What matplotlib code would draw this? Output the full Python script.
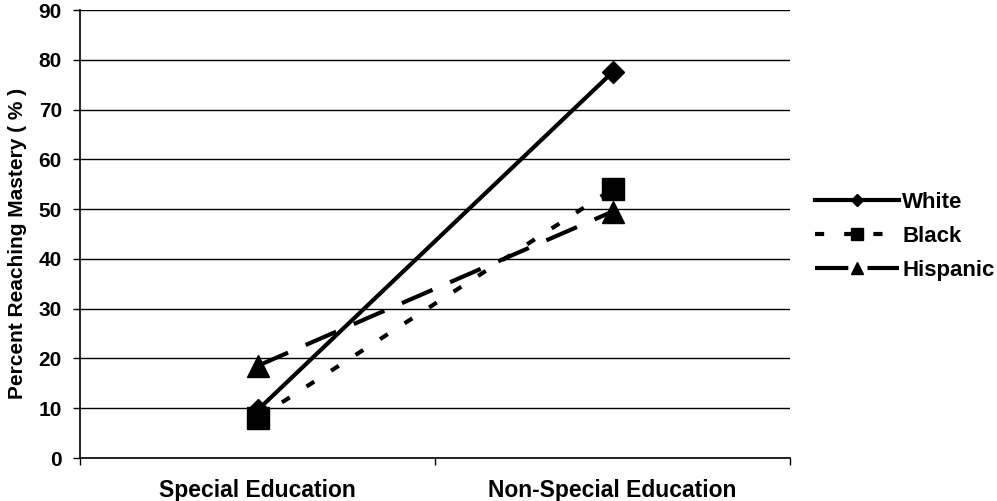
import numpy as np
import matplotlib.pyplot as plt

plt.rcParams['font.family'] = ['Liberation Sans', 'DejaVu Sans']
plt.rcParams['font.weight'] = 'bold'

categories = ['Special Education', 'Non-Special Education']
white = [9.6, 77.5]
black = [8.0, 54.0]
hispanic = [18.5, 49.5]

fig = plt.figure(figsize=(9.97, 5.01), dpi=100)
ax = fig.add_axes([80 / 997, 43 / 501, 710 / 997, 448 / 501])

x = np.arange(len(categories)) + 0.5

ax.plot(x, white, color='black', lw=3, marker='D', ms=11.5, label='White', zorder=3)
ax.plot(x, hispanic, color='black', lw=3, dashes=(8, 4.6), marker='^', ms=16.5,
        label='Hispanic', zorder=4)
ax.plot(x, black, color='black', lw=3, dashes=(2.2, 4.8), marker='s', ms=16,
        label='Black', zorder=5)

ax.set_xlim(0, 2)
ax.set_ylim(0, 90)
ax.set_yticks(np.arange(0, 91, 10))
ax.set_xticks([0, 1, 2])
ax.set_xticklabels([])
ax.set_xticks(x, minor=True)
ax.set_xticklabels(categories, minor=True, fontsize=16.5, fontweight='bold')
ax.tick_params(axis='x', which='minor', length=0, pad=15)
ax.tick_params(axis='x', which='major', length=5, width=1, direction='out')
ax.tick_params(axis='y', length=5, width=1, labelsize=15, pad=8)
for lab in ax.get_yticklabels():
    lab.set_fontweight('bold')

ax.grid(axis='y', color='black', lw=1)
ax.set_axisbelow(True)
ax.spines['top'].set_visible(False)
ax.spines['right'].set_visible(False)
ax.spines['left'].set_linewidth(1.2)
ax.spines['bottom'].set_linewidth(1.2)

ax.set_ylabel('Percent Reaching Mastery ( % )', fontsize=15, fontweight='bold')
ax.yaxis.set_label_coords(-0.074, 0.48)

handles, labels = ax.get_legend_handles_labels()
order = [0, 2, 1]
leg = ax.legend([handles[i] for i in order], [labels[i] for i in order],
                loc='center left', bbox_to_anchor=(1.022, 0.495), borderaxespad=0,
                frameon=False, fontsize=16, markerscale=0.55, handlelength=3.8,
                labelspacing=0.58, handletextpad=0.15)
for t in leg.get_texts():
    t.set_fontweight('bold')

fig.savefig('out.png', dpi=100)
